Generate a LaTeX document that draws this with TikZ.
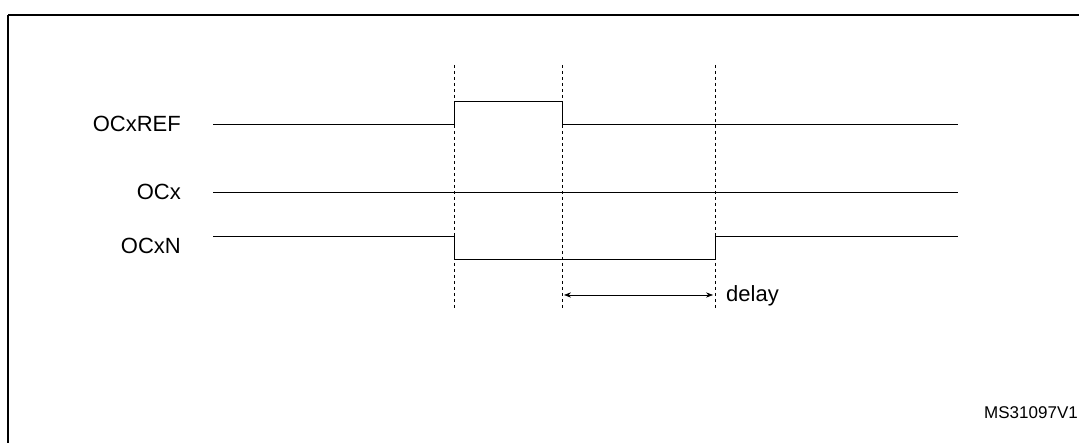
\documentclass[tikz,border=0pt]{standalone}
\usepackage{fontspec}
\setmainfont{Liberation Sans}
\usetikzlibrary{arrows.meta}
\tikzset{
    sig/.style={line width=0.9pt},
    guide/.style={dashed, line width=0.7pt},
    lbl/.style={font=\fontsize{22}{26}\selectfont, inner sep=0pt}
}
\begin{document}
\begin{tikzpicture}[x=1pt,y=-1pt]
\useasboundingbox (0,0) rectangle (1079,443);
\draw[line width=1.6pt] (8,15) -- (1090,15);
\draw[line width=1.6pt] (8,15) -- (8,450);
% signal labels
\node[lbl, anchor=east] (ref) at (181,124) {OCxREF};
\node[lbl, anchor=east] (ocx) at (181,192) {OCx};
\node[lbl, anchor=east] (ocxn) at (181,246) {OCxN};
% waveforms
\draw[sig] (213,124) -- (454,124) -- (454,101) -- (562,101) -- (562,124) -- (958,124);
\draw[sig] (213,192) -- (958,192);
\draw[sig] (213,236) -- (454,236) -- (454,259) -- (715,259) -- (715,236) -- (958,236);
% edges
\foreach \x/\n in {454/a,562/b,715/c}{
    \coordinate (\n top) at (\x,65);
    \coordinate (\n bot) at (\x,308);
    \draw[guide] (\n top) -- (\n bot);
}
\coordinate (d1) at (564,295);
\coordinate (d2) at (713,295);
\draw[{Stealth[length=7pt]}-{Stealth[length=7pt]}, line width=0.7pt] (d1) -- (d2);
\node[lbl, anchor=west] (delay) at (726,296) {delay};
\node[font=\fontsize{17}{20}\selectfont, inner sep=0pt, anchor=east] (code) at (1078,413) {MS31097V1};
\end{tikzpicture}
\end{document}
